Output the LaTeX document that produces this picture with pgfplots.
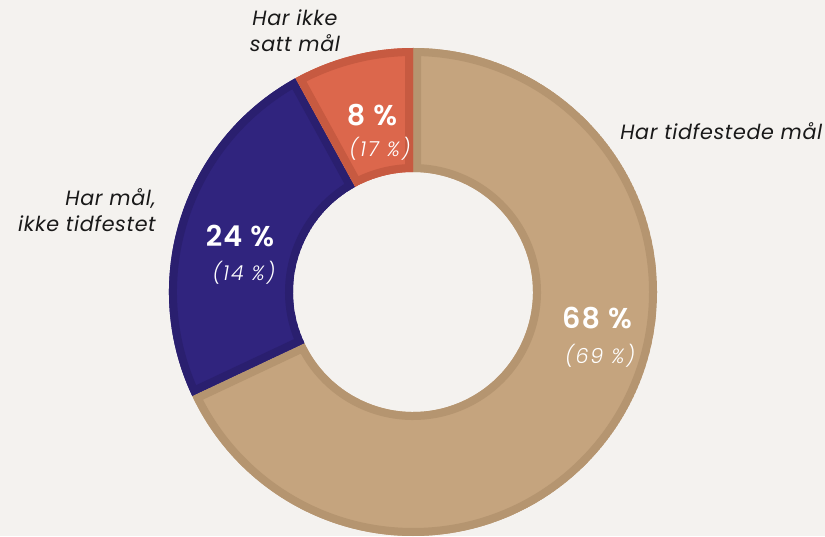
\documentclass[border=0pt]{standalone}
\usepackage{pgfplots}
\pgfplotsset{compat=1.18}
\usepackage{pgfplotstable}
\usepackage{fontspec}
\setmainfont{Poppins}[BoldFont={Poppins SemiBold}]
\newfontfamily\lightit{Poppins Light Italic}[LetterSpace=9]
\newfontfamily\labfont{Poppins}[LetterSpace=3]
\newfontfamily\bigfont{Poppins SemiBold}[LetterSpace=4]
\definecolor{bg}{HTML}{F4F2EF}
\definecolor{tanM}{HTML}{C5A47E}
\definecolor{tanB}{HTML}{B59570}
\definecolor{navyM}{HTML}{30247E}
\definecolor{navyB}{HTML}{2A1F6F}
\definecolor{oraM}{HTML}{DC674C}
\definecolor{oraB}{HTML}{C75A41}
\pgfplotstableread{
label value
tidfestet 68
ikketid 24
ikkesatt 8
}\data
\begin{document}
\begin{tikzpicture}
\begin{axis}[hide axis, x=0.75pt, y=0.75pt, xmin=0, xmax=825, ymin=0, ymax=536,
  clip=false, axis line style={draw=none}]
\fill[bg] (axis cs:0,0) rectangle (axis cs:825,536);
\pgfmathsetmacro{\R}{244*0.75}
\pgfmathsetmacro{\Ri}{120*0.75}
\def\cx{413}\def\cy{244}
\newcommand{\wedgepath}[2]{([shift={(#1:\Ri pt)}]axis cs:\cx,\cy) -- ([shift={(#1:\R pt)}]axis cs:\cx,\cy) arc[start angle=#1, end angle=#2, radius=\R pt] -- ([shift={(#2:\Ri pt)}]axis cs:\cx,\cy) arc[start angle=#2, end angle=#1, radius=\Ri pt] -- cycle}
\pgfplotstablegetelem{0}{value}\of\data \pgfmathsetmacro{\va}{\pgfplotsretval}
\pgfplotstablegetelem{1}{value}\of\data \pgfmathsetmacro{\vb}{\pgfplotsretval}
\pgfplotstablegetelem{2}{value}\of\data \pgfmathsetmacro{\vc}{\pgfplotsretval}
\pgfmathsetmacro{\aA}{90}
\pgfmathsetmacro{\aB}{90-\va*3.6}
\pgfmathsetmacro{\aC}{\aB-\vb*3.6}
\pgfmathsetmacro{\aD}{\aC-\vc*3.6}
\begin{scope}\clip \wedgepath{\aA}{\aB}; \fill[tanM] \wedgepath{\aA}{\aB}; \draw[tanB, line width=12pt] \wedgepath{\aA}{\aB};\end{scope}
\begin{scope}\clip \wedgepath{\aB}{\aC}; \fill[navyM] \wedgepath{\aB}{\aC}; \draw[navyB, line width=12pt] \wedgepath{\aB}{\aC};\end{scope}
\begin{scope}\clip \wedgepath{\aC}{\aD}; \fill[oraM] \wedgepath{\aC}{\aD}; \draw[oraB, line width=12pt] \wedgepath{\aC}{\aD};\end{scope}
% labels
\tikzset{lab/.style={font=\labfont\fontsize{15.5}{19.5}\selectfont\itshape, text=black!90, inner sep=0pt},
  big/.style={font=\bigfont\fontsize{21.5}{24}\selectfont, text=white, inner sep=0pt},
  sub/.style={font=\lightit\fontsize{15.5}{16}\selectfont, text=white, inner sep=0pt}}
\node[lab, align=center] at (axis cs:295,505) {Har ikke\\satt mål};
\node[lab, anchor=west] at (axis cs:620,405) {Har tidfestede mål};
\node[lab, align=right, anchor=east] at (axis cs:156,326) {Har mål,\\ikke tidfestet};
\node[big] at (axis cs:372,421) {8 \%};
\node[sub] at (axis cs:380,387) {(17 \%)};
\node[big] at (axis cs:240,300) {24 \%};
\node[sub] at (axis cs:244,263) {(14 \%)};
\node[big] at (axis cs:597,218) {68 \%};
\node[sub] at (axis cs:600,180) {(69 \%)};
\end{axis}
\end{tikzpicture}
\end{document}
